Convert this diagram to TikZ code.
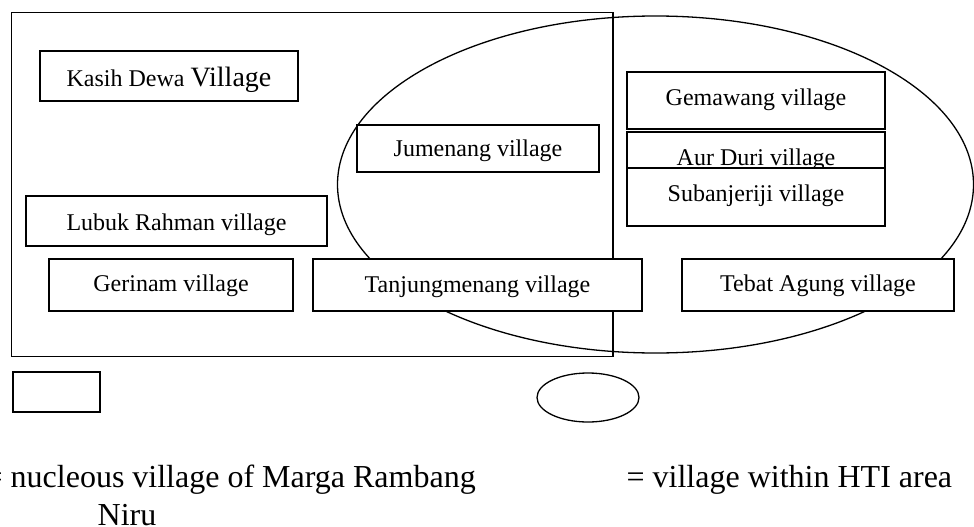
\documentclass[tikz,border=0pt]{standalone}
\usepackage{fontspec}
\setmainfont{Liberation Serif}
\usetikzlibrary{shapes.geometric}
\begin{document}
\begin{tikzpicture}[x=1pt,y=-1pt,line width=1.3pt,
  area/.style={draw,rectangle,inner sep=0pt},
  hti/.style={draw,ellipse,inner sep=0pt},
  vbox/.style={draw,fill=white,rectangle,inner sep=0pt,
    font=\fontsize{24}{28}\selectfont,text depth=5pt,text height=21pt},
  legtext/.style={inner sep=0pt,font=\fontsize{32}{38}\selectfont}]
\useasboundingbox (0,0) rectangle (974,527);
% main areas
\node[area,minimum width=601.5pt,minimum height=344pt] (marga) at (312.25,184.5) {};
\node[hti,minimum width=636pt,minimum height=337pt] (htiarea) at (655.5,184.5) {};
% villages
\node[vbox,minimum width=258pt,minimum height=50pt,text height=25pt] (kasih) at (169,76)
  {Kasih Dewa {\fontsize{28}{30}\selectfont Village}};
\node[vbox,minimum width=242pt,minimum height=47pt,text height=21pt] (jumenang) at (478,148.5) {Jumenang village};
\node[vbox,minimum width=258pt,minimum height=57pt,text height=14pt] (gemawang) at (756,100.5) {Gemawang village};
\node[vbox,minimum width=258pt,minimum height=54pt,text height=17pt] (aurduri) at (756,159) {Aur Duri village};
\node[vbox,minimum width=258pt,minimum height=58pt,text height=13pt] (subanjeriji) at (756,197) {Subanjeriji village};
\node[vbox,minimum width=301pt,minimum height=50pt,text height=23pt] (lubuk) at (176.5,221) {Lubuk Rahman village};
\node[vbox,minimum width=244pt,minimum height=52pt,text height=17pt] (gerinam) at (171,285) {Gerinam village};
\node[vbox,minimum width=329pt,minimum height=52pt,text height=19.5pt] (tanjung) at (477.5,285) {Tanjungmenang village};
\node[vbox,minimum width=272pt,minimum height=52pt,text height=18.5pt] (tebat) at (818,285) {Tebat Agung village};
% legend
\node[area,minimum width=87pt,minimum height=40pt] (legrect) at (56.5,392) {};
\node[hti,minimum width=102pt,minimum height=49pt] (legell) at (588,397.5) {};
\node[legtext,anchor=base west] (legA) at (-16,487) {= nucleous village of Marga Rambang};
\node[legtext,anchor=base west] (legA2) at (97,525) {Niru};
\node[legtext,anchor=base west] (legB) at (626,487) {= village within HTI area};
\end{tikzpicture}
\end{document}
